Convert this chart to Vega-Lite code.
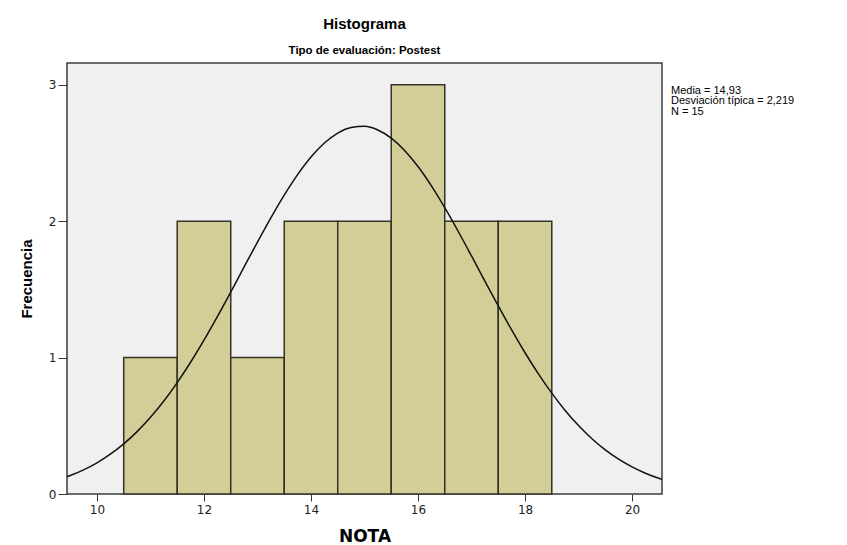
{
  "$schema": "https://vega.github.io/schema/vega-lite/v6.json",
  "width": 595,
  "height": 431,
  "autosize": {"type": "none"},
  "padding": {"left": 67, "top": 63, "right": 185, "bottom": 51},
  "background": "white",
  "title": {
    "text": "Histograma",
    "subtitle": "Tipo de evaluación: Postest",
    "anchor": "middle",
    "frame": "group",
    "font": "Liberation Sans",
    "fontSize": 15,
    "fontWeight": "bold",
    "color": "#000000",
    "subtitleFont": "Liberation Sans",
    "subtitleFontSize": 11.5,
    "subtitleFontWeight": "bold",
    "subtitleColor": "#000000",
    "subtitlePadding": 13,
    "offset": 7
  },
  "config": {
    "view": {"fill": "#F0F0F0", "stroke": "#3c3c3c", "strokeWidth": 1.5},
    "axis": {
      "grid": false,
      "labelFont": "DejaVu Sans",
      "labelFontSize": 12,
      "labelColor": "#222222",
      "tickColor": "#333333",
      "titleFont": "Liberation Sans",
      "titleFontWeight": "bold",
      "titleColor": "#000000",
      "domain": false
    }
  },
  "datasets": {
    "bins": [
      {"start": 10.5, "end": 11.5, "count": 1},
      {"start": 11.5, "end": 12.5, "count": 2},
      {"start": 12.5, "end": 13.5, "count": 1},
      {"start": 13.5, "end": 14.5, "count": 2},
      {"start": 14.5, "end": 15.5, "count": 2},
      {"start": 15.5, "end": 16.5, "count": 3},
      {"start": 16.5, "end": 17.5, "count": 2},
      {"start": 17.5, "end": 18.5, "count": 2}
    ],
    "curve": [
      {"x": 9.44, "y": 0.1263}, {"x": 9.5, "y": 0.1351}, {"x": 9.75, "y": 0.1768},
      {"x": 10, "y": 0.2286}, {"x": 10.25, "y": 0.2917}, {"x": 10.5, "y": 0.3676},
      {"x": 10.75, "y": 0.4574}, {"x": 11, "y": 0.5619}, {"x": 11.25, "y": 0.6816},
      {"x": 11.5, "y": 0.8167}, {"x": 11.75, "y": 0.9659}, {"x": 12, "y": 1.1279},
      {"x": 12.25, "y": 1.3006}, {"x": 12.5, "y": 1.4806}, {"x": 12.75, "y": 1.6645},
      {"x": 13, "y": 1.8474}, {"x": 13.25, "y": 2.0248}, {"x": 13.5, "y": 2.1911},
      {"x": 13.75, "y": 2.3412}, {"x": 14, "y": 2.4701}, {"x": 14.25, "y": 2.5731},
      {"x": 14.5, "y": 2.6466}, {"x": 14.75, "y": 2.6879}, {"x": 15, "y": 2.6955},
      {"x": 15.25, "y": 2.6689}, {"x": 15.5, "y": 2.6093}, {"x": 15.75, "y": 2.5188},
      {"x": 16, "y": 2.4008}, {"x": 16.25, "y": 2.2595}, {"x": 16.5, "y": 2.0996},
      {"x": 16.75, "y": 1.9265}, {"x": 17, "y": 1.7454}, {"x": 17.25, "y": 1.5613},
      {"x": 17.5, "y": 1.379}, {"x": 17.75, "y": 1.2027}, {"x": 18, "y": 1.0356},
      {"x": 18.25, "y": 0.8806}, {"x": 18.5, "y": 0.7393}, {"x": 18.75, "y": 0.6127},
      {"x": 19, "y": 0.5016}, {"x": 19.25, "y": 0.4054}, {"x": 19.5, "y": 0.3235},
      {"x": 19.75, "y": 0.2549}, {"x": 20, "y": 0.1983}, {"x": 20.25, "y": 0.1523},
      {"x": 20.5, "y": 0.1155}, {"x": 20.56, "y": 0.1079}
    ],
    "stats": [
      {"label": ["Media = 14,93", "Desviación típica = 2,219", "N = 15"]}
    ]
  },
  "layer": [
    {
      "data": {"name": "bins"},
      "mark": {"type": "bar", "fill": "#D3CE97", "stroke": "#333326", "strokeWidth": 1.5},
      "encoding": {
        "x": {
          "field": "start",
          "type": "quantitative",
          "scale": {"domain": [9.44, 20.56], "nice": false, "zero": false},
          "axis": {
            "values": [10, 12, 14, 16, 18, 20],
            "format": "d",
            "title": "NOTA",
            "titleFont": "DejaVu Sans",
            "titleFontSize": 17,
            "titlePadding": 13,
            "tickSize": 7,
            "labelPadding": 3
          }
        },
        "x2": {"field": "end"},
        "y": {
          "field": "count",
          "type": "quantitative",
          "scale": {"domain": [0, 3.16], "nice": false},
          "axis": {
            "values": [0, 1, 2, 3],
            "format": "d",
            "title": "Frecuencia",
            "titleFontSize": 15,
            "titlePadding": 14,
            "tickSize": 9,
            "labelPadding": 2
          }
        },
        "y2": {"datum": 0}
      }
    },
    {
      "data": {"name": "curve"},
      "mark": {"type": "line", "color": "#111111", "strokeWidth": 1.5, "interpolate": "monotone", "clip": true},
      "encoding": {
        "x": {"field": "x", "type": "quantitative"},
        "y": {"field": "y", "type": "quantitative"}
      }
    },
    {
      "data": {"name": "stats"},
      "mark": {
        "type": "text",
        "align": "left",
        "baseline": "top",
        "font": "Liberation Sans",
        "fontSize": 11,
        "lineHeight": 10.5,
        "color": "#000000",
        "dx": 9,
        "clip": false
      },
      "encoding": {
        "x": {"datum": 20.56, "type": "quantitative"},
        "y": {"datum": 3.0, "type": "quantitative"},
        "text": {"field": "label"}
      }
    }
  ]
}
